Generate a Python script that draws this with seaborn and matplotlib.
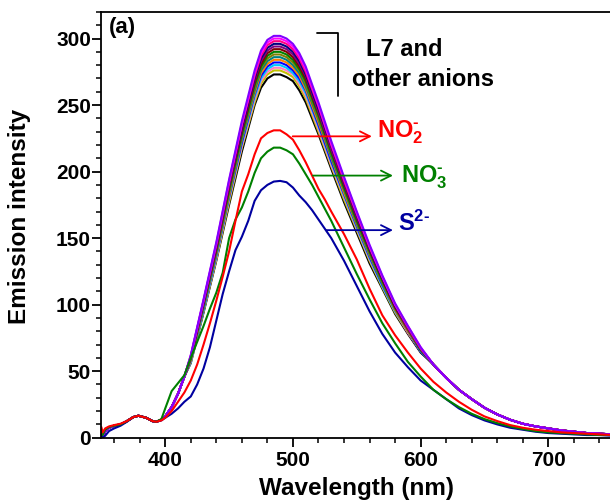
import matplotlib
matplotlib.use("Agg")
import matplotlib.pyplot as plt
import seaborn as sns
from matplotlib.ticker import MultipleLocator

sns.set_style("ticks")
plt.rcParams['font.family'] = ['Liberation Sans', 'DejaVu Sans']
plt.rcParams['font.weight'] = 'bold'
plt.rcParams['mathtext.fontset'] = 'custom'
plt.rcParams['mathtext.rm'] = 'Liberation Sans:bold'
plt.rcParams['mathtext.it'] = 'Liberation Sans:bold'
plt.rcParams['mathtext.bf'] = 'Liberation Sans:bold'
for key in ['text.color', 'axes.labelcolor', 'xtick.color', 'ytick.color', 'axes.edgecolor']:
    plt.rcParams[key] = 'black'

# ---- data ----
# L7 and the other anions (tight bundle), split into shared head/tail + own middle
head_wl = [350, 351, 353, 356, 360, 365, 370, 375, 379, 385, 390, 393, 397, 400, 405, 410, 415]
cluster_head = [4, 1, 5, 7.5, 9, 10, 12.5, 15.5, 16.5, 15, 12.5, 12, 13.5, 16, 23, 33, 46]
mid_wl = [420, 430, 440, 450, 460, 470, 475, 480, 485, 490, 495, 500, 505, 510,
          520, 530, 540, 550, 560, 570, 580, 590, 600]
tail_wl = [610, 620, 630, 640, 650, 660, 670, 680, 690, 700, 710, 720, 730, 740, 750]
cluster_tail = [55, 45, 36, 29, 22.5, 17.5, 13.5, 10.5, 8.5, 7, 5.5, 4.5, 3.5, 3, 2.5]

cluster_colors = ['#000000', '#C0C000', '#FF80C0', '#00C8FF', '#0000FF', '#FF8000',
                  '#008080', '#808000', '#008000', '#800000', '#800080', '#000080',
                  '#FF0080', '#FF00FF', '#8000FF']
cluster_mid = [
    [56, 94, 133, 175, 215, 250, 263, 270, 273, 273, 271, 268, 261, 252, 228, 202, 177, 154, 131, 112, 93, 78, 64],
    [57, 95, 134, 177, 218, 252, 266, 273, 276, 276, 274, 271, 264, 255, 230, 204, 179, 156, 133, 113, 94, 79, 65],
    [57, 96, 135, 179, 219, 254, 268, 275, 278, 278, 276, 273, 266, 257, 232, 205, 181, 157, 134, 114, 95, 79, 65],
    [57, 96, 136, 180, 221, 256, 270, 277, 280, 280, 278, 274, 268, 259, 234, 207, 182, 158, 135, 114, 95, 80, 65],
    [58, 97, 137, 181, 222, 258, 272, 279, 282, 282, 280, 276, 270, 261, 235, 208, 183, 159, 136, 115, 96, 80, 65],
    [58, 98, 138, 182, 224, 259, 274, 281, 284, 284, 282, 278, 272, 262, 237, 210, 184, 160, 137, 116, 96, 80, 66],
    [59, 98, 139, 184, 225, 261, 276, 283, 286, 286, 284, 280, 274, 264, 239, 211, 186, 161, 138, 116, 97, 81, 66],
    [59, 99, 140, 185, 227, 263, 278, 285, 288, 288, 286, 282, 276, 266, 240, 213, 187, 162, 139, 117, 97, 81, 66],
    [60, 100, 141, 186, 228, 265, 279, 287, 290, 290, 288, 284, 277, 268, 242, 214, 188, 163, 140, 118, 98, 82, 66],
    [60, 101, 142, 188, 230, 267, 281, 289, 292, 292, 290, 286, 279, 270, 244, 216, 190, 165, 141, 119, 98, 82, 67],
    [60, 101, 143, 189, 232, 269, 283, 291, 294, 294, 292, 288, 281, 272, 245, 217, 191, 166, 142, 120, 99, 82, 67],
    [61, 102, 144, 190, 233, 270, 285, 293, 296, 296, 294, 290, 283, 273, 247, 219, 192, 167, 142, 120, 99, 83, 67],
    [61, 103, 145, 191, 235, 272, 287, 295, 298, 298, 296, 292, 285, 275, 249, 220, 193, 168, 143, 121, 100, 83, 67],
    [62, 103, 146, 193, 236, 274, 289, 297, 300, 300, 298, 294, 287, 277, 250, 221, 195, 169, 144, 121, 100, 84, 68],
    [62, 104, 147, 194, 238, 276, 291, 299, 302, 302, 300, 296, 289, 279, 252, 223, 196, 170, 145, 122, 101, 84, 68],
]

# quenching anions
spec_wl = [350, 351, 353, 356, 360, 365, 370, 375, 379, 385, 390, 393, 397, 400,
           405, 410, 415, 420, 425, 430, 435, 440, 445, 450, 455, 460, 465, 470, 475,
           480, 485, 490, 495, 500, 505, 510, 515, 520, 525, 530,
           540, 550, 560, 570, 580, 590, 600, 610, 620, 630, 640, 650, 660, 670, 680,
           690, 700, 710, 720, 730, 740, 750]
no2 = [8, 4, 7, 8.5, 9.5, 10.5, 12.5, 15.5, 16.5, 15, 12.5, 12, 13, 15,
       20, 27, 34, 43, 55, 70, 86, 103, 121, 140, 163, 185, 198, 213, 225,
       229, 231, 231, 228, 224, 216, 207, 197, 187, 179, 170,
       153, 134, 112, 92, 77, 64, 52, 42, 34, 27, 21, 16, 12.5, 9.5, 7.5,
       6, 5, 4, 3.5, 3, 2.5, 2]
no3 = [6, 2, 6, 8, 9, 10, 12.5, 15.5, 16.5, 15, 12.5, 12, 14, 22,
       35, 41, 47, 60, 72, 84, 97, 109, 124, 150, 164, 173, 185, 199, 210,
       215, 218, 218, 216, 213, 206, 198, 190, 181, 172, 163,
       143, 123, 104, 86, 71, 57, 46, 36, 29, 23, 18, 14, 11, 8.5, 6.5,
       5, 4, 3.5, 3, 2.5, 2, 2]
s2 = [2, 0, 1.5, 5, 7, 9, 12, 15.5, 16.5, 15, 12.5, 12, 13, 15,
      18, 22, 27, 31, 40, 52, 68, 88, 108, 125, 141, 151, 163, 178, 186,
      190, 192.5, 193, 192, 188, 182, 177, 171, 164, 157, 150,
      133, 114, 95, 78, 64, 53, 43, 36, 29, 22, 17, 13, 10, 7.5, 6,
      4.5, 3.5, 3, 2.5, 2, 2, 1.5]

fig = plt.figure(figsize=(6.1, 5.03), dpi=100)
ax = fig.add_axes([0.1662, 0.1298, 0.8374, 0.8465])

cluster_wl = head_wl + mid_wl + tail_wl
for col, mid in zip(cluster_colors, cluster_mid):
    sns.lineplot(x=cluster_wl, y=cluster_head + mid + cluster_tail, color=col,
                 lw=1.5, ax=ax, sort=False, estimator=None)

sns.lineplot(x=spec_wl, y=s2, color='#0000A0', lw=1.5, ax=ax, sort=False, estimator=None)
sns.lineplot(x=spec_wl, y=no3, color='#008000', lw=1.5, ax=ax, sort=False, estimator=None)
sns.lineplot(x=spec_wl, y=no2, color='#FF0000', lw=1.5, ax=ax, sort=False, estimator=None)

ax.set_xlim(350, 750)
ax.set_ylim(0, 320)
ax.xaxis.set_major_locator(MultipleLocator(100))
ax.xaxis.set_minor_locator(MultipleLocator(20))
ax.yaxis.set_major_locator(MultipleLocator(50))
ax.yaxis.set_minor_locator(MultipleLocator(10))
ax.tick_params(which='major', direction='out', length=6.5, width=1.3, labelsize=15, pad=1)
ax.tick_params(axis='x', which='major', pad=3)
ax.tick_params(which='minor', direction='out', length=3.5, width=1.1)
for s in ['left', 'bottom', 'top', 'right']:
    ax.spines[s].set_linewidth(1.3)

ax.set_xlabel('Wavelength (nm)', fontsize=17.5, fontweight='bold')
ax.set_ylabel('Emission intensity', fontsize=17.5, fontweight='bold')
ax.xaxis.set_label_coords(0.5, -0.093)
ax.yaxis.set_label_coords(-0.137, 0.52)

# annotations
ax.text(356, 304.5, '(a)', fontsize=16, fontweight='bold', va='baseline')
ax.plot([519, 535.5, 535.5], [304.5, 304.5, 257], color='black', lw=1.3)
ax.text(557, 287, 'L7 and', fontsize=17, va='baseline')
ax.text(546, 264.6, 'other anions', fontsize=17, va='baseline')

arrow_kw = dict(arrowstyle='->', lw=1.3, mutation_scale=18)
ax.annotate('', xy=(564, 226.5), xytext=(497.6, 226.5),
            arrowprops=dict(color='#FF0000', **arrow_kw))
ax.text(566, 225.8, r'NO$_2^{\text{-}}$', color='#FF0000', fontsize=17, va='baseline')
ax.annotate('', xy=(580.5, 197), xytext=(513.5, 197),
            arrowprops=dict(color='#008000', **arrow_kw))
ax.text(585, 191.8, r'NO$_3^{\text{-}}$', color='#008000', fontsize=17, va='baseline')
ax.annotate('', xy=(580.5, 156), xytext=(523.6, 156),
            arrowprops=dict(color='#0000A0', **arrow_kw))
ax.text(582, 155.8, r'S$^{2\text{-}}$', color='#0000A0', fontsize=17, va='baseline')

fig.savefig('out.png', dpi=100)
